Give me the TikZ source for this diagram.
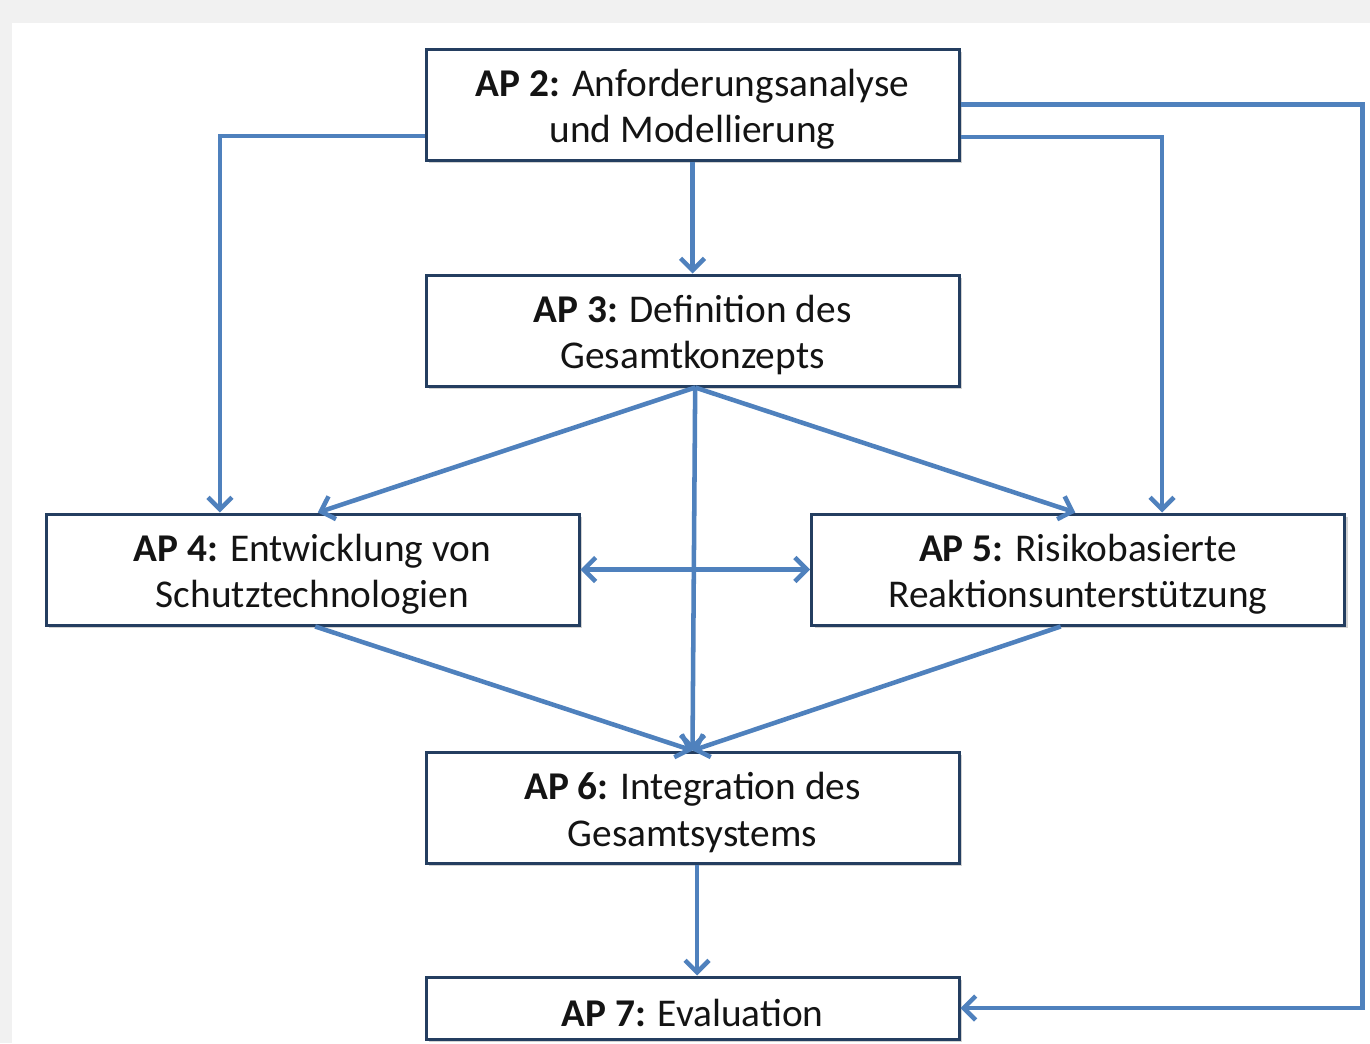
\documentclass[tikz,border=0pt]{standalone}
\usepackage{fontspec}
\setmainfont{Carlito}
\usetikzlibrary{arrows.meta,shadows,calc}
\definecolor{boxblue}{RGB}{36,62,96}
\definecolor{lineblue}{RGB}{79,129,189}
\definecolor{bggray}{RGB}{241,241,241}
\tikzset{
  apbox/.style={draw=boxblue, line width=2.25pt, fill=white,
    minimum width=399.75pt, minimum height=83.25pt, inner sep=0pt,
    drop shadow={shadow xshift=2.5pt, shadow yshift=-2.5pt, opacity=0.25, fill=black!70}},
  aptext/.style={inner sep=0pt, align=center, text=black!92,
    font=\fontsize{29.5}{35}\selectfont},
  conn/.style={draw=lineblue, line width=3.4pt, line join=miter,
    -{Straight Barb[length=9pt,width=18pt]}},
  conn2/.style={draw=lineblue, line width=3.4pt,
    {Straight Barb[length=9pt,width=18pt]}-{Straight Barb[length=9pt,width=18pt]}}
}
\begin{document}
\begin{tikzpicture}[x=0.75pt,y=-0.75pt]
\useasboundingbox (0,0) rectangle (1370,1043);
\fill[bggray] (0,0) rectangle (1370,1043);
\fill[white] (12,23) rectangle (1370,1043);

\node[apbox] (ap2) at (692.5,104.5) {};
\node[apbox] (ap3) at (692.5,330.5) {};
\node[apbox] (ap4) at (312.5,569.5) {};
\node[apbox] (ap5) at (1078,569.5) {};
\node[apbox] (ap6) at (692.5,807.5) {};
\node[apbox, minimum height=46.5pt] (ap7) at (692.5,1008) {};

\node[aptext] (t2) at ([yshift=-3.5pt]ap2.center) {\textbf{AP 2:} Anforderungsanalyse\\und Modellierung};
\node[aptext] (t3) at ([yshift=-3.5pt]ap3.center) {\textbf{AP 3:} Definition des\\Gesamtkonzepts};
\node[aptext] (t4) at ([yshift=-3.5pt]ap4.center) {\textbf{AP 4:} Entwicklung von\\Schutztechnologien};
\node[aptext] (t5) at ([yshift=-3.5pt]ap5.center) {\textbf{AP 5:} Risikobasierte\\Reaktionsunterstützung};
\node[aptext] (t6) at ([yshift=-3.5pt]ap6.center) {\textbf{AP 6:} Integration des\\Gesamtsystems};
\node[aptext] (t7) at ([yshift=-3.5pt]ap7.center) {\textbf{AP 7:} Evaluation};

% AP2 connections
\draw[conn] (ap2.south) -- (ap3.north);
\draw[conn] ([yshift=-23.6pt]ap2.west) -| ([xshift=-69.4pt]ap4.north);
\draw[conn] ([yshift=-24.4pt]ap2.east) -| ([xshift=63pt]ap5.north);
\draw[conn] (ap2.east) -- ++(402,0) |- (ap7.east);

% AP3 connections
\draw[conn] ([xshift=2pt]ap3.south) -- ([xshift=4pt]ap4.north);
\draw[conn] ([xshift=2pt]ap3.south) -- ([xshift=-2pt]ap5.north);
\draw[conn] ([xshift=2pt]ap3.south) -- (ap6.north);

% AP4 <-> AP5
\draw[conn2] (ap4.east) -- (ap5.west);

% into AP6
\draw[conn] ([xshift=2pt]ap4.south) -- (ap6.north);
\draw[conn] ([xshift=-13pt]ap5.south) -- (ap6.north);

% AP6 -> AP7
\draw[conn] ([xshift=3.4pt]ap6.south) -- ([xshift=3.4pt]ap7.north);
\end{tikzpicture}
\end{document}
